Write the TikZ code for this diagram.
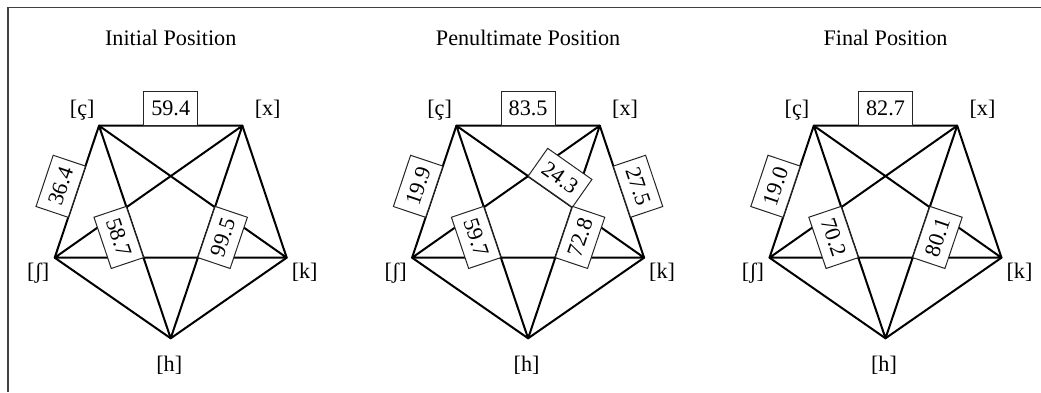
\documentclass[tikz,border=0pt]{standalone}
\usepackage{fontspec}
\setmainfont{Liberation Serif}
\begin{document}
\begin{tikzpicture}[x=0.5pt, y=-0.5pt,
  every node/.style={font=\fontsize{11.1}{13}\selectfont},
  edge/.style={line width=1pt, line join=round},
  ttl/.style={anchor=base, inner sep=0pt},
  vlab/.style={anchor=base, inner sep=0pt},
  wlab/.style={draw=black!85, line width=0.5pt, fill=white, sloped,
    minimum height=17pt, inner xsep=3.8pt, inner ysep=0pt, outer sep=0pt}]
  \useasboundingbox (0,0) rectangle (1041,392);
  \draw[black!75, line width=0.7pt] (1041,7.3) -- (8,7.3) -- (8,392);
  % three pentagons with all their diagonals
  \foreach \i/\cx/\ttl in {1/170.7/Initial Position, 2/528.1/Penultimate Position, 3/885.5/Final Position} {
    \begin{scope}[shift={(\cx,0)}]
      \node[ttl] (t\i) at (0,45.7) {\ttl};
      \coordinate (c\i) at (-71.7,125.7);
      \coordinate (x\i) at (71.7,125.7);
      \coordinate (s\i) at (-116,257.7);
      \coordinate (k\i) at (116,257.7);
      \coordinate (h\i) at (0,338.3);
      \draw[edge] (c\i) -- (x\i) -- (k\i) -- (h\i) -- (s\i) -- cycle;
      \draw[edge] (c\i) -- (k\i) -- (s\i) -- (x\i) -- (h\i) -- cycle;
      \node[vlab] (lc\i) at (-88.5,115) {[ç]};
      \node[vlab] (lx\i) at (97,115) {[x]};
      \node[vlab] (ls\i) at (-132.5,278.5) {[ʃ]};
      \node[vlab] (lk\i) at (134,278.5) {[k]};
      \node[vlab] (lh\i) at (-1.5,371.5) {[h]};
    \end{scope}
  }
  % edge values
  \path (c1) -- node[wlab, above] {59.4} (x1);
  \path (s1) -- node[wlab, above] {36.4} (c1);
  \path (c1) -- node[wlab, below] {58.7} (h1);
  \path (h1) -- node[wlab, below] {99.5} (x1);
  \path (c2) -- node[wlab, above] {83.5} (x2);
  \path (s2) -- node[wlab, above] {19.9} (c2);
  \path (c2) -- node[wlab, above] {24.3} (k2);
  \path (x2) -- node[wlab, above] {27.5} (k2);
  \path (c2) -- node[wlab, below] {59.7} (h2);
  \path (h2) -- node[wlab, below] {72.8} (x2);
  \path (c3) -- node[wlab, above] {82.7} (x3);
  \path (s3) -- node[wlab, above] {19.0} (c3);
  \path (c3) -- node[wlab, below] {70.2} (h3);
  \path (h3) -- node[wlab, below] {80.1} (x3);
\end{tikzpicture}
\end{document}
